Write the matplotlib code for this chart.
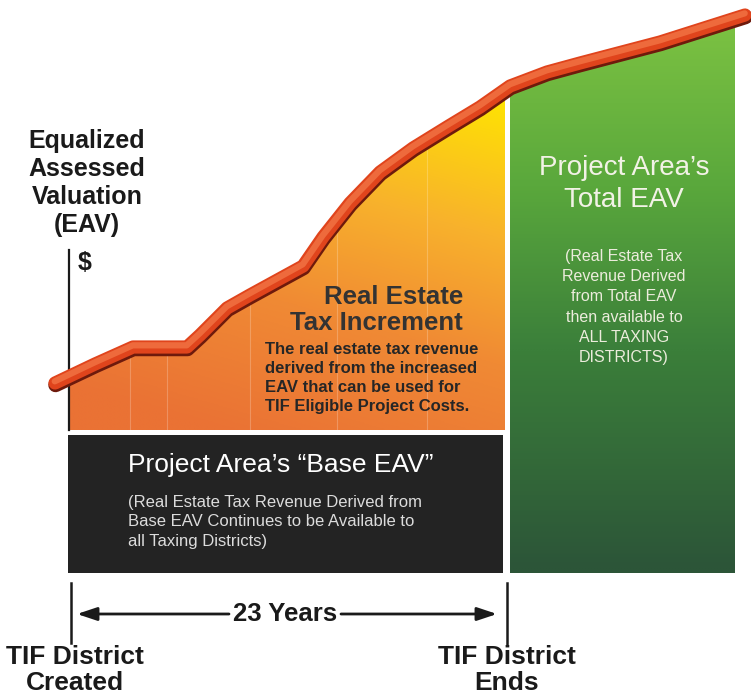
import numpy as np
import matplotlib.pyplot as plt
import matplotlib.patheffects as pe
from matplotlib.patches import Polygon, Rectangle
from matplotlib.colors import LinearSegmentedColormap

plt.rcParams['font.family'] = ['Liberation Sans', 'DejaVu Sans']

# EAV curve (x to the right, y downwards)
curve_x = [55, 95, 133, 187, 200, 227, 250, 303, 323, 350, 380, 413, 447, 480, 510, 547, 580, 660, 745]
curve_y = [383, 364, 347, 347, 335, 308, 295, 266, 237, 203, 172, 148, 127, 107, 86, 72, 63, 42, 15]

# text blocks
axis_label = "Equalized\nAssessed\nValuation\n(EAV)"
incr_title = "Real Estate\nTax Increment"
incr_text = ("The real estate tax revenue\nderived from the increased\n"
             "EAV that can be used for\nTIF Eligible Project Costs.")
total_title = "Project Area\u2019s\nTotal EAV"
total_text = ("(Real Estate Tax\nRevenue Derived\nfrom Total EAV\n"
              "then available to\nALL TAXING\nDISTRICTS)")
base_title = "Project Area\u2019s \u201cBase EAV\u201d"
base_text = ("(Real Estate Tax Revenue Derived from\nBase EAV Continues to be Available to\n"
             "all Taxing Districts)")
period_label = "23 Years"
start_label = "TIF District\nCreated"
end_label = "TIF District\nEnds"

W, H = 751, 698
x0, x1 = 70, 505          # increment area
g0, g1 = 510, 735         # total EAV area
incr_bot = 430
base_top, base_bot = 435, 573

fig = plt.figure(figsize=(7.51, 6.98), dpi=100)
ax = fig.add_axes([0, 0, 1, 1])


def gradient_fill(xa, xb, ya, yb, colors, tfunc):
    xs = np.linspace(xa, xb, 300)
    ys = np.linspace(ya, yb, 300)
    X, Y = np.meshgrid(xs, ys)
    cmap = LinearSegmentedColormap.from_list('g', colors)
    img = cmap(tfunc(X, Y))
    return ax.imshow(img, extent=(xa, xb, yb, ya), aspect='auto', zorder=1, interpolation='bilinear')


# orange / yellow increment area
xs = np.linspace(x0, x1, 300)
top = np.interp(xs, curve_x, curve_y)
poly = Polygon(list(zip(xs, top)) + [(x1, incr_bot), (x0, incr_bot)], closed=True,
               facecolor='none', edgecolor='none')
ax.add_patch(poly)
im = gradient_fill(x0, x1, 70, incr_bot,
                   [(0, '#ffe600'), (0.35, '#f8b22c'), (0.65, '#f08a34'), (1, '#ea7234')],
                   lambda X, Y: np.clip((Y - 90) / 340 * 0.8 + (x1 - X) / 435 * 0.3, 0, 1))
im.set_clip_path(poly)
for gx in [130, 167, 250, 337, 427]:
    ln, = ax.plot([gx, gx], [60, incr_bot], color='white', lw=0.8, alpha=0.22, zorder=2)
    ln.set_clip_path(poly)

# green total area
xs2 = np.linspace(g0, g1, 200)
top2 = np.interp(xs2, curve_x, curve_y)
poly2 = Polygon(list(zip(xs2, top2)) + [(g1, base_bot), (g0, base_bot)], closed=True,
                facecolor='none', edgecolor='none')
ax.add_patch(poly2)
im2 = gradient_fill(g0, g1, 10, base_bot,
                    [(0, '#7cc242'), (0.3, '#5aa83c'), (0.6, '#3b7f3a'), (1, '#2c5538')],
                    lambda X, Y: np.clip((Y - 20) / 550, 0, 1))
im2.set_clip_path(poly2)

# base EAV box
ax.add_patch(Rectangle((68, base_top), 503 - 68, base_bot - base_top, facecolor='#232323',
                       edgecolor='none', zorder=2))

# the EAV curve
ax.plot(curve_x, curve_y, color='#e0441c', lw=9.5, solid_capstyle='round', solid_joinstyle='round',
        zorder=5,
        path_effects=[pe.Stroke(linewidth=10.5, foreground='#6e1a0c', offset=(0.4, -1.4)),
                      pe.Stroke(linewidth=9.5, foreground='#e0441c'),
                      pe.Stroke(linewidth=4.5, foreground='#ee6a3c', offset=(-0.2, 1.2))])

# vertical axis and time markers
ax.plot([69, 69], [250, 430], color='#1a1a1a', lw=1.6, zorder=4)
ax.plot([71, 71], [583, 643], color='#1a1a1a', lw=1.8)
ax.plot([507, 507], [583, 645], color='#1a1a1a', lw=1.8)
arrow = dict(arrowstyle='-|>,head_length=1.2,head_width=0.4', color='#1a1a1a', lw=2,
             shrinkA=0, shrinkB=0)
ax.annotate('', xy=(77, 614), xytext=(229, 614), arrowprops=arrow)
ax.annotate('', xy=(497, 614), xytext=(341, 614), arrowprops=arrow)
ax.text(285, 614, period_label, ha='center', va='center', fontsize=18.5, fontweight='bold',
        color='#1a1a1a')
ax.text(75, 670, start_label, ha='center', va='center', fontsize=19, fontweight='bold',
        color='#1a1a1a', linespacing=1.08)
ax.text(507, 670, end_label, ha='center', va='center', fontsize=19, fontweight='bold',
        color='#1a1a1a', linespacing=1.08)

# labels
ax.text(87, 183, axis_label, ha='center', va='center', fontsize=18, fontweight='bold',
        color='#1a1a1a', linespacing=1.2)
ax.text(85, 263, '$', ha='center', va='center', fontsize=18, fontweight='bold', color='#1a1a1a')
ax.text(463, 310, incr_title, ha='right', va='center', fontsize=18.5, fontweight='bold',
        color='#333333', linespacing=1.1, multialignment='right', zorder=6)
ax.text(265, 378, incr_text, ha='left', va='center', fontsize=12, fontweight='bold',
        color='#262626', linespacing=1.33, zorder=6)
ax.text(624, 184, total_title, ha='center', va='center', fontsize=20, color='#f2f2e6',
        linespacing=1.28, zorder=6)
ax.text(624, 307, total_text, ha='center', va='center', fontsize=11.5, color='#ececdc',
        linespacing=1.42, zorder=6)
ax.text(128, 465, base_title, ha='left', va='center', fontsize=19, color='white', zorder=6)
ax.text(128, 522, base_text, ha='left', va='center', fontsize=12, color='#dcdcdc',
        linespacing=1.4, zorder=6)

ax.set_xlim(0, W)
ax.set_ylim(H, 0)
ax.axis('off')
fig.savefig('out.png', dpi=100, facecolor='white')
